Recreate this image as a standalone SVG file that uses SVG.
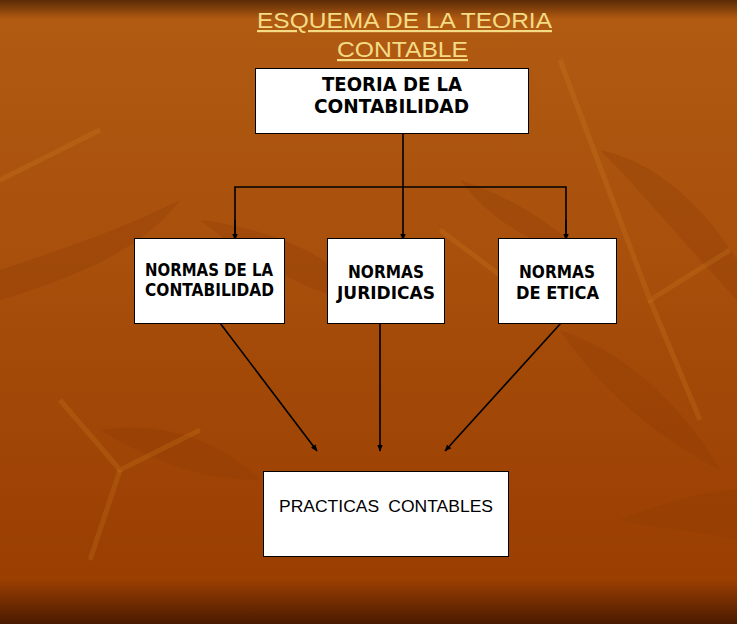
<svg xmlns="http://www.w3.org/2000/svg" width="737" height="624" viewBox="0 0 737 624">
<style>
.box{fill:#fff;stroke:#000;stroke-width:1}
.t{font-family:"DejaVu Sans",sans-serif;font-weight:bold;font-size:17px;fill:#000}
.title{font-family:"Liberation Sans",Arial,sans-serif;font-size:22px;fill:#F4DC84;text-decoration:underline}
.c{stroke:#000;stroke-width:1.6;fill:none}
.leaf{fill:#8E3A05;opacity:0.3}
.vein{stroke:#D98A2A;stroke-width:5;opacity:0.2;fill:none}
</style>
<defs>
<linearGradient id="bg" x1="0" y1="0" x2="0" y2="1">
<stop offset="0" stop-color="#5A2A05"/>
<stop offset="0.03" stop-color="#B05A12"/>
<stop offset="0.4" stop-color="#A8500C"/>
<stop offset="0.93" stop-color="#9A3E02"/>
<stop offset="1" stop-color="#4A1A00"/>
</linearGradient>
<marker id="ah" viewBox="0 0 10 10" refX="9" refY="5" markerWidth="7" markerHeight="7" orient="auto" markerUnits="userSpaceOnUse">
<path d="M0,1 L10,5 L0,9 z" fill="#000"/>
</marker>
</defs>
<rect width="737" height="624" fill="url(#bg)"/>
<g id="background">
<path class="leaf" d="M0,270 C60,250 120,230 180,200 C150,240 100,270 0,300 z"/>
<path class="leaf" d="M200,220 C280,230 340,260 380,310 C300,290 250,260 200,220 z"/>
<path class="leaf" d="M600,150 C650,160 700,200 737,260 L737,300 C690,250 640,190 600,150 z"/>
<path class="leaf" d="M460,180 C520,200 560,230 590,260 C540,250 490,220 460,180 z"/>
<path class="leaf" d="M100,430 C160,420 220,440 260,480 C200,480 150,460 100,430 z"/>
<path class="leaf" d="M560,330 C620,350 680,400 720,470 C660,440 600,390 560,330 z"/>
<path class="leaf" d="M620,520 C670,500 710,490 737,490 L737,540 C700,530 660,530 620,520 z"/>
<path class="vein" d="M60,400 L120,470 L200,430"/>
<path class="vein" d="M120,470 L90,560"/>
<path class="vein" d="M560,60 L650,300 L730,250"/>
<path class="vein" d="M650,300 L700,420"/>
<path class="vein" d="M440,230 L520,290 L600,310"/>
<path class="vein" d="M0,180 L100,130"/>
</g>
<g id="title">
<text class="title" x="257" y="28" textLength="295" lengthAdjust="spacingAndGlyphs">ESQUEMA DE LA TEORIA</text>
<text class="title" x="337" y="57" textLength="131" lengthAdjust="spacingAndGlyphs">CONTABLE</text>
</g>
<g id="connectors">
<line class="c" x1="403" y1="133" x2="403" y2="240" marker-end="url(#ah)"/>
<polyline class="c" points="235,238 235,187 566,187 566,238"/>
<line class="c" x1="235" y1="220" x2="235" y2="240" marker-end="url(#ah)"/>
<line class="c" x1="566" y1="220" x2="566" y2="240" marker-end="url(#ah)"/>
<line class="c" x1="220" y1="323" x2="317" y2="451" marker-end="url(#ah)"/>
<line class="c" x1="380" y1="323" x2="380" y2="451" marker-end="url(#ah)"/>
<line class="c" x1="561" y1="323" x2="445" y2="451" marker-end="url(#ah)"/>
</g>
<g id="teoria">
<rect class="box" x="255.5" y="68.5" width="273" height="65"/>
<text class="t" x="322" y="91" style="font-size:19px" textLength="140" lengthAdjust="spacingAndGlyphs">TEORIA DE LA</text>
<text class="t" x="314" y="113" style="font-size:19px" textLength="155" lengthAdjust="spacingAndGlyphs">CONTABILIDAD</text>
</g>
<g id="normas-contabilidad">
<rect class="box" x="134.5" y="238.5" width="150" height="85"/>
<text class="t" x="145" y="276" textLength="128" lengthAdjust="spacingAndGlyphs">NORMAS DE LA</text>
<text class="t" x="145" y="296" textLength="129" lengthAdjust="spacingAndGlyphs">CONTABILIDAD</text>
</g>
<g id="normas-juridicas">
<rect class="box" x="327.5" y="238.5" width="117" height="85"/>
<text class="t" x="348" y="278" textLength="76" lengthAdjust="spacingAndGlyphs">NORMAS</text>
<text class="t" x="337" y="299" textLength="98" lengthAdjust="spacingAndGlyphs">JURIDICAS</text>
</g>
<g id="normas-etica">
<rect class="box" x="498.5" y="238.5" width="118" height="85"/>
<text class="t" x="519" y="278" textLength="76" lengthAdjust="spacingAndGlyphs">NORMAS</text>
<text class="t" x="516" y="299" textLength="83" lengthAdjust="spacingAndGlyphs">DE ETICA</text>
</g>
<g id="practicas">
<rect class="box" x="263.5" y="471.5" width="245" height="85"/>
<text x="279" y="512" textLength="214" lengthAdjust="spacingAndGlyphs" style="font-family:'Liberation Sans',Arial,sans-serif;font-size:16px;fill:#000;word-spacing:4px">PRACTICAS  CONTABLES</text>
</g>
</svg>
